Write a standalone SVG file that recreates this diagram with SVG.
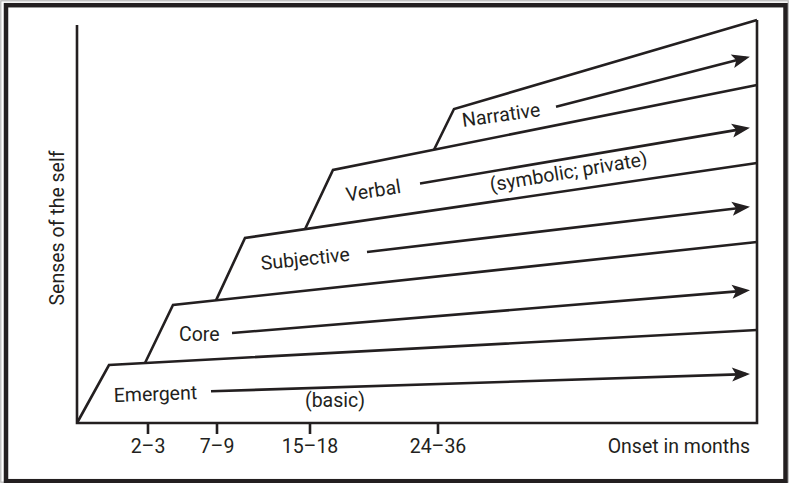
<svg xmlns="http://www.w3.org/2000/svg" width="789" height="483" viewBox="0 0 789 483">
  <style>
    .ln { fill: none; stroke: #231f20; stroke-width: 2.6; stroke-linejoin: miter; }
    .arr { fill: none; stroke: #231f20; stroke-width: 2.6; marker-end: url(#head); }
    .lbl { font-family: Roboto, "Open Sans", "Liberation Sans", sans-serif; font-size: 19.5px; fill: #231f20; }
  </style>
  <defs>
    <marker id="head" markerUnits="userSpaceOnUse" markerWidth="20" markerHeight="16" refX="14" refY="7" orient="auto" overflow="visible">
      <path d="M0,0 L18,7 L0,14 L4,7 Z" fill="#231f20"/>
    </marker>
  </defs>

  <!-- frame -->
  <rect x="0.8" y="0.8" width="787.4" height="481.4" fill="#ffffff" stroke="#b5b5b5" stroke-width="1.2"/>
  <rect x="6" y="5.2" width="779.5" height="476" fill="none" stroke="#231f20" stroke-width="4.5"/>

  <!-- axes and ticks -->
  <g id="axes">
    <path class="ln" d="M77,25 L77,423 L757,423 L757,20"/>
    <path class="ln" d="M148,423 V434 M217,423 V434 M310,423 V434 M438,423 V434"/>
    <text class="lbl" transform="translate(64,228) rotate(-90)" text-anchor="middle">Senses of the self</text>
    <text class="lbl" x="148" y="453" text-anchor="middle">2–3</text>
    <text class="lbl" x="217" y="453" text-anchor="middle">7–9</text>
    <text class="lbl" x="310" y="453" text-anchor="middle">15–18</text>
    <text class="lbl" x="438" y="453" text-anchor="middle">24–36</text>
    <text class="lbl" x="750" y="453" text-anchor="end">Onset in months</text>
  </g>

  <!-- bands: each sense of the self -->
  <g id="emergent">
    <path class="ln" d="M77,423 L109,365 L757,330"/>
    <text class="lbl" transform="translate(114,402) rotate(-2)">Emergent</text>
    <text class="lbl" x="305" y="407">(basic)</text>
  </g>
  <g id="core">
    <path class="ln" d="M145,363.06 L173,305 L757,242"/>
    <text class="lbl" x="179" y="341">Core</text>
  </g>
  <g id="subjective">
    <path class="ln" d="M216,300.36 L245,238 L757,163"/>
    <text class="lbl" transform="translate(261.5,270) rotate(-6)">Subjective</text>
  </g>
  <g id="verbal">
    <path class="ln" d="M305,229.2 L333,170 L757,85"/>
    <text class="lbl" transform="translate(347,201.5) rotate(-9)">Verbal</text>
    <text class="lbl" transform="translate(491,191.5) rotate(-9.5)">(symbolic; private)</text>
  </g>
  <g id="narrative">
    <path class="ln" d="M434,149.75 L454,109 L757,20"/>
    <text class="lbl" transform="translate(463,127) rotate(-8)">Narrative</text>
  </g>

  <!-- developmental arrows -->
  <g id="connectors">
    <path class="arr" d="M211,391.3 L746,374.13"/>
    <path class="arr" d="M232,333 L746,290.63"/>
    <path class="arr" d="M367,252 L746,207.17"/>
    <path class="arr" d="M420,183.5 L746,128.37"/>
    <path class="arr" d="M556,106.7 L746,57.7"/>
  </g>
</svg>
